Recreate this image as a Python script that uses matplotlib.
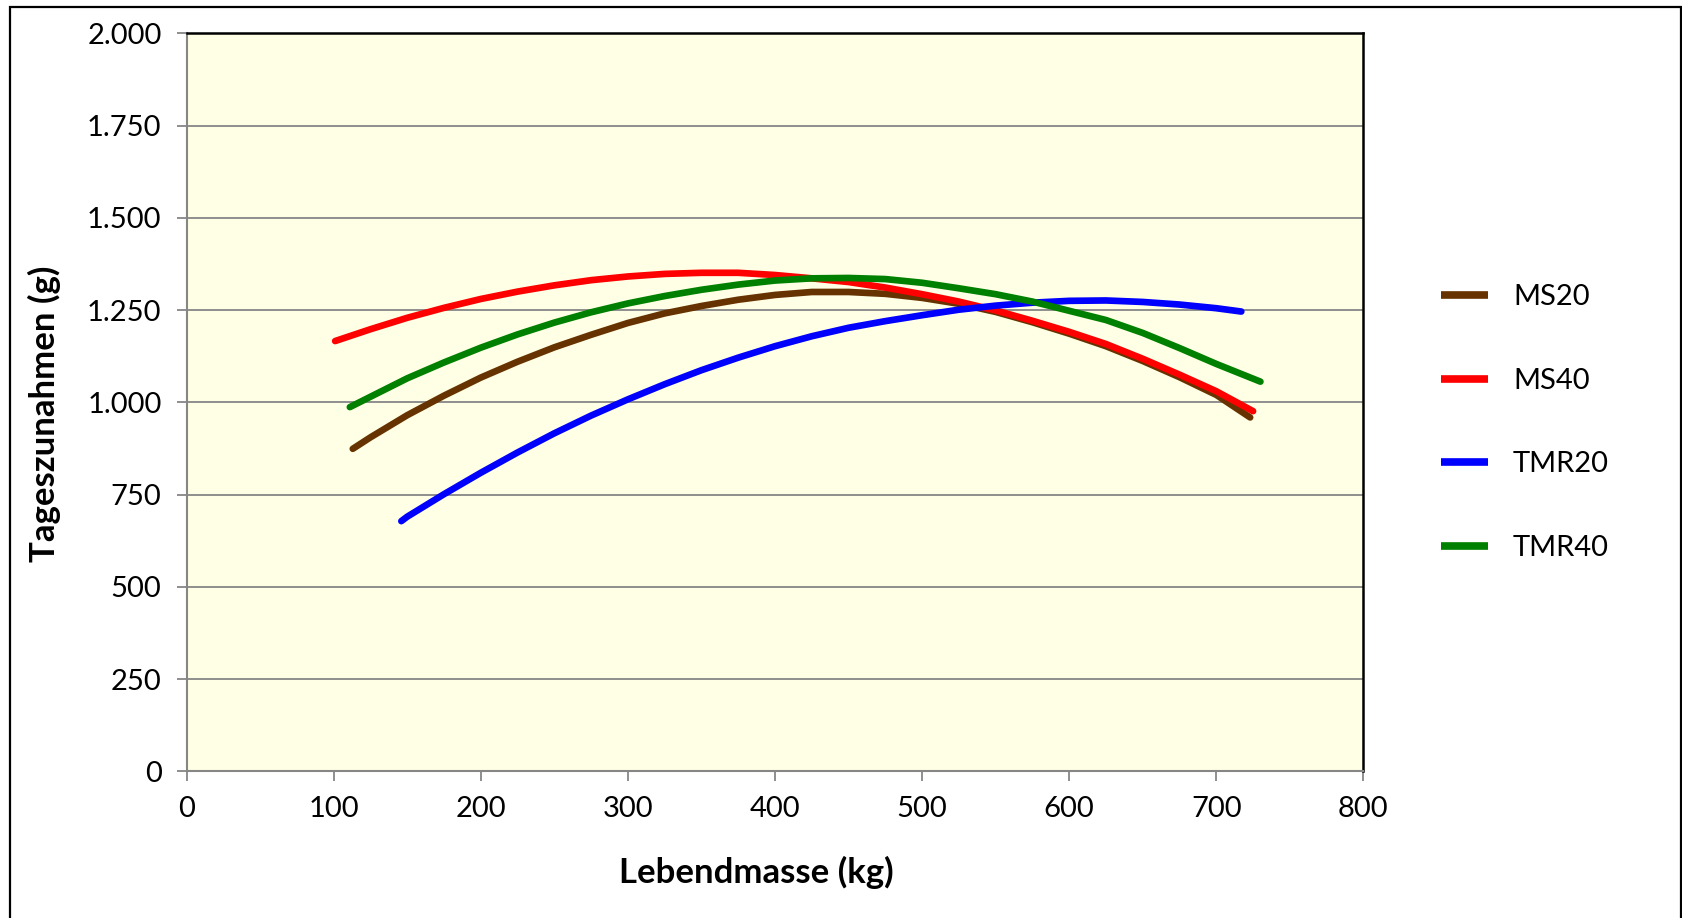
import numpy as np
import matplotlib.pyplot as plt
from matplotlib.ticker import FuncFormatter, MultipleLocator
from matplotlib.patches import Rectangle

plt.rcParams['font.family'] = ['Lato', 'DejaVu Sans']

# %% data (Lebendmasse kg -> Tageszunahmen g)
ms20_x = [113, 125, 150, 175, 200, 225, 250, 275, 300, 325, 350, 375, 400,
          425, 450, 475, 500, 525, 550, 575, 600, 625, 650, 675, 700, 723]
ms20_y = [874, 905, 965, 1018, 1067, 1110, 1149, 1183, 1215, 1241, 1261, 1278, 1291,
          1299, 1299, 1294, 1283, 1267, 1245, 1217, 1186, 1152, 1112, 1068, 1020, 959]

ms40_x = [101, 125, 150, 175, 200, 225, 250, 275, 300, 325, 350, 375, 400,
          425, 450, 475, 500, 525, 550, 575, 600, 625, 650, 675, 700, 725]
ms40_y = [1166, 1198, 1229, 1256, 1280, 1300, 1317, 1331, 1341, 1348, 1351, 1351, 1345,
          1336, 1326, 1311, 1293, 1273, 1249, 1221, 1191, 1158, 1118, 1075, 1030, 976]

tmr20_x = [146, 150, 175, 200, 225, 250, 275, 300, 325, 350, 375, 400, 425,
           450, 475, 500, 525, 550, 575, 600, 625, 650, 675, 700, 717]
tmr20_y = [678, 690, 751, 809, 864, 916, 964, 1008, 1049, 1087, 1121, 1152, 1179,
           1202, 1220, 1236, 1251, 1262, 1270, 1275, 1276, 1272, 1265, 1255, 1246]

tmr40_x = [111, 125, 150, 175, 200, 225, 250, 275, 300, 325, 350, 375, 400,
           425, 450, 475, 500, 525, 550, 575, 600, 625, 650, 675, 700, 730]
tmr40_y = [987, 1015, 1065, 1108, 1148, 1184, 1216, 1244, 1268, 1288, 1305, 1319, 1330,
           1336, 1337, 1334, 1324, 1309, 1293, 1273, 1248, 1223, 1188, 1147, 1104, 1056]

series = [('MS20', ms20_x, ms20_y, '#663300'),
          ('MS40', ms40_x, ms40_y, '#FF0000'),
          ('TMR20', tmr20_x, tmr20_y, '#0000FF'),
          ('TMR40', tmr40_x, tmr40_y, '#008000')]

# %%
fig = plt.figure(figsize=(16.82, 9.18), dpi=100)
ax = fig.add_axes([0.1109, 0.1598, 0.6997, 0.8039])
ax.set_facecolor('#FFFFE5')

for name, xs, ys, col in series:
    ax.plot(xs, ys, c=col, lw=4.8, solid_capstyle='round',
            solid_joinstyle='round', label=name)

ax.set_xlim(0, 800)
ax.set_ylim(0, 2000)
ax.xaxis.set_major_locator(MultipleLocator(100))
ax.yaxis.set_major_locator(MultipleLocator(250))
ax.yaxis.set_major_formatter(FuncFormatter(lambda v, p: f'{int(v):,}'.replace(',', '.')))
ax.grid(axis='y', color='#868686', lw=1.3)
ax.set_axisbelow(True)

for s in ['left', 'bottom']:
    ax.spines[s].set_color('#868686')
    ax.spines[s].set_linewidth(1.5)
for s in ['top', 'right']:
    ax.spines[s].set_color('black')
    ax.spines[s].set_linewidth(1.8)
ax.tick_params(direction='out', length=7, width=1.3, color='#868686',
               labelsize=21, pad=11)

ax.set_xlabel('Lebendmasse (kg)', size=25, weight='bold', labelpad=24)
ax.set_ylabel('Tageszunahmen (g)', size=25, weight='bold', labelpad=19)
ax.xaxis.label.set_x(0.484)
ax.yaxis.label.set_y(0.484)

leg = ax.legend(loc='center left', bbox_to_anchor=(1.044, 0.4725), frameon=False,
                fontsize=21, handlelength=1.6, handletextpad=0.85, labelspacing=1.97)
for h in leg.get_lines():
    h.set_linewidth(5.5)
    h.set_solid_capstyle('butt')

# outer chart border
fig.patches.append(Rectangle((10 / 1682, -0.05), 1671 / 1682, 1.05 - 7 / 918,
                             transform=fig.transFigure, fill=False,
                             edgecolor='black', lw=1.6))

fig.savefig('out.png', dpi=100)
